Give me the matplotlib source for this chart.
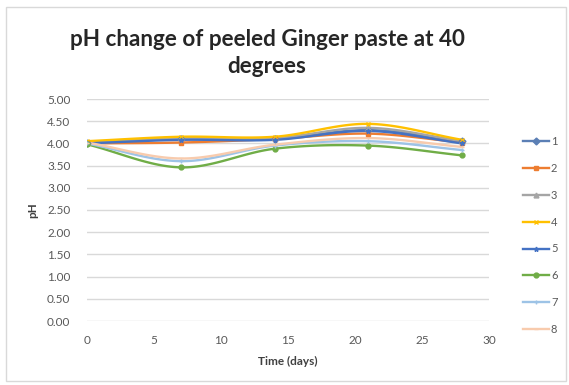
import numpy as np
import matplotlib
matplotlib.use("Agg")
import matplotlib.pyplot as plt
from matplotlib.patches import Rectangle

days = [0, 7, 14, 21, 28]
s1 = [4.00, 4.10, 4.10, 4.30, 4.05]
s2 = [4.00, 4.02, 4.10, 4.22, 4.02]
s3 = [4.02, 4.12, 4.12, 4.35, 4.05]
s4 = [4.05, 4.15, 4.15, 4.44, 4.08]
s5 = [4.00, 4.08, 4.08, 4.28, 4.00]
s6 = [3.98, 3.46, 3.88, 3.95, 3.73]
s7 = [4.00, 3.60, 3.95, 4.05, 3.85]
s8 = [4.02, 3.66, 3.97, 4.12, 3.92]
labels = ["1", "2", "3", "4", "5", "6", "7", "8"]
series = [s1, s2, s3, s4, s5, s6, s7, s8]

colors = ["#5B7FB5", "#ED7D31", "#A5A5A5", "#FFC000",
          "#4472C4", "#70AD47", "#9DC3E6", "#F8CBAD"]
markers = ["D", "s", "^", "x", "*", "o", "+", "_"]

plt.rcParams["font.family"] = ["Lato", "DejaVu Sans"]


def smooth(x, y, n=30):
    # Excel-style smoothed line (Catmull-Rom between the points)
    x = np.asarray(x, float); y = np.asarray(y, float)
    px = np.concatenate([[2 * x[0] - x[1]], x, [2 * x[-1] - x[-2]]])
    py = np.concatenate([[2 * y[0] - y[1]], y, [2 * y[-1] - y[-2]]])
    xs, ys = [], []
    t = np.linspace(0, 1, n)
    for i in range(1, len(px) - 2):
        for arr, out in ((px, xs), (py, ys)):
            p0, p1, p2, p3 = arr[i - 1], arr[i], arr[i + 1], arr[i + 2]
            out.extend(0.5 * ((2 * p1) + (-p0 + p2) * t
                              + (2 * p0 - 5 * p1 + 4 * p2 - p3) * t ** 2
                              + (-p0 + 3 * p1 - 3 * p2 + p3) * t ** 3))
    return xs, ys


fig = plt.figure(figsize=(5.69, 3.85), dpi=100)
fig.patches.append(Rectangle((6 / 569, 4 / 385), 560 / 569, 374 / 385,
                             transform=fig.transFigure, fill=False,
                             edgecolor="#D9D9D9", linewidth=1.0))
ax = fig.add_axes([87 / 569, 1 - 321 / 385, 402 / 569, 222 / 385])

for lab, ys, c, m in zip(labels, series, colors, markers):
    sx, sy = smooth(days, ys)
    ax.plot(sx, sy, color=c, lw=1.7, zorder=3)
    ax.plot(days, ys, ls="none", marker=m, color=c, ms=3.5, mew=1, zorder=4)
    ax.plot([], [], color=c, lw=1.7, marker=m, ms=3.5, mew=1, label=lab)

ax.set_xlim(0, 30)
ax.set_ylim(0, 5)
ax.set_xticks(range(0, 31, 5))
ax.set_yticks(np.arange(0, 5.01, 0.5))
ax.yaxis.set_major_formatter(matplotlib.ticker.FormatStrFormatter("%.2f"))
ax.grid(axis="y", color="#D9D9D9", lw=1)
ax.set_axisbelow(True)
for sp in ax.spines.values():
    sp.set_visible(False)
ax.tick_params(length=0, labelsize=8.5, colors="#595959", pad=10)
ax.tick_params(axis="y", pad=12)

ax.set_xlabel("Time (days)", fontsize=8.5, weight="bold", color="#404040", labelpad=7)
ax.set_ylabel("pH", fontsize=8.5, weight="bold", color="#404040", labelpad=6)
fig.text(267 / 569, 1 - 53 / 385, "pH change of peeled Ginger paste at 40\ndegrees",
         ha="center", va="center", fontsize=16.2, weight="bold", color="#262626",
         linespacing=1.3)

ax.legend(loc="center left", bbox_to_anchor=(1.06, 0.385), frameon=False,
          fontsize=8, handlelength=2.3, labelspacing=1.42, handletextpad=0.2,
          labelcolor="#595959")

fig.savefig("out.png", dpi=100)
